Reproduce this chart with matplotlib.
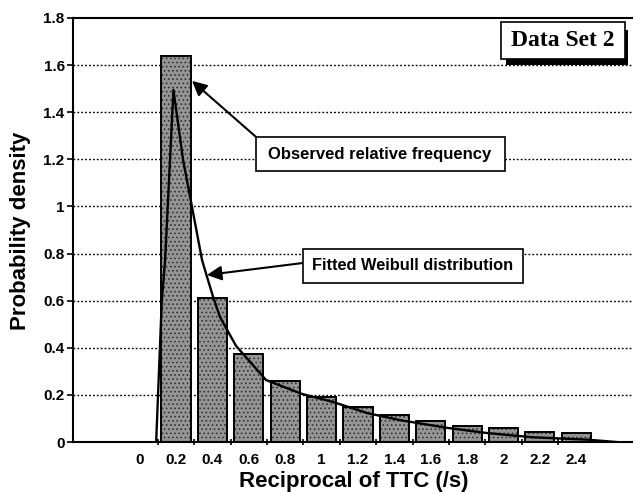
import matplotlib
matplotlib.use("Agg")
import matplotlib.pyplot as plt
from matplotlib.patches import Rectangle

# category labels on the x axis (bin values of reciprocal TTC)
bin_labels = ["0", "0.2", "0.4", "0.6", "0.8", "1", "1.2", "1.4", "1.6", "1.8", "2", "2.2", "2.4"]
observed = [0.0, 1.64, 0.61, 0.375, 0.26, 0.19, 0.15, 0.115, 0.089, 0.069, 0.058, 0.044, 0.04]

# fitted Weibull curve, x in 1/s
weibull_x = [0.091, 0.122, 0.14, 0.186, 0.239, 0.288, 0.343, 0.371, 0.404, 0.442, 0.53,
             0.695, 0.893, 1.063, 1.25, 1.43, 1.69, 1.91, 2.16, 2.46, 2.62]
weibull_y = [0.0, 0.60, 0.77, 1.495, 1.197, 0.998, 0.773, 0.70, 0.616, 0.53, 0.408,
             0.263, 0.204, 0.17, 0.123, 0.093, 0.06, 0.038, 0.02, 0.01, 0.0]

W, H = 633, 492

plt.rcParams["font.family"] = ["Liberation Sans", "DejaVu Sans"]
plt.rcParams["font.weight"] = "bold"
plt.rcParams["hatch.linewidth"] = 0.7

fig = plt.figure(figsize=(W / 100, H / 100), dpi=100)
ax = fig.add_axes([73 / W, 1 - 442 / H, 559 / W, 424 / H])


def fig_box(x0, y0, x1, y1, **kw):
    # rectangle given in pixel coords from top-left of the figure
    r = Rectangle((x0 / W, 1 - y1 / H), (x1 - x0) / W, (y1 - y0) / H,
                  transform=fig.transFigure, **kw)
    fig.patches.append(r)


pos = list(range(len(bin_labels)))
ax.bar(pos, observed, width=0.8, color="#959595", hatch="....", edgecolor="#333333",
       linewidth=0, zorder=2)
ax.bar(pos, observed, width=0.8, fill=False, edgecolor="black", linewidth=1.4, zorder=3)

curve_pos = [x / 0.2 for x in weibull_x]
ax.plot(curve_pos, weibull_y, color="black", linewidth=1.7, zorder=4)

ax.set_xlim(-1.83, 13.53)
ax.set_ylim(0, 1.8)
ax.set_yticks([0.2 * i for i in range(10)])
ax.set_yticklabels(["0", "0.2", "0.4", "0.6", "0.8", "1", "1.2", "1.4", "1.6", "1.8"])
ax.set_xticks(pos)
ax.set_xticklabels(bin_labels)
ax.set_xticks([i + 0.5 for i in range(12)], minor=True)
ax.tick_params(axis="x", which="major", length=0, pad=8, labelsize=11)
ax.tick_params(axis="x", which="minor", length=5, width=1.2, direction="inout")
ax.tick_params(axis="y", length=4, width=1.2, direction="out", labelsize=11, pad=2)
for g in [0.2 * i for i in range(1, 9)]:
    ax.axhline(g, color="black", linestyle=(0, (1.3, 1.5)), linewidth=1.0, zorder=1)

ax.spines["right"].set_visible(False)
for side in ["left", "top", "bottom"]:
    ax.spines[side].set_linewidth(1.5)

fig.text(354 / W, 1 - 482 / H, "Reciprocal of TTC (/s)", ha="center", va="center",
         fontsize=16, fontweight="bold")
fig.text(21 / W, 1 - 231 / H, "Probability density", ha="center", va="center",
         rotation=90, fontsize=16, fontweight="bold")

# callout boxes
fig_box(256, 137, 505, 171, facecolor="white", edgecolor="black", linewidth=1.2, zorder=6)
fig.text(380 / W, 1 - 154 / H, "Observed relative frequency", ha="center", va="center",
         fontsize=12, fontweight="bold", zorder=7)
fig_box(303, 249, 523, 283, facecolor="white", edgecolor="black", linewidth=1.2, zorder=6)
fig.text(413 / W, 1 - 266 / H, "Fitted Weibull distribution", ha="center", va="center",
         fontsize=11.8, fontweight="bold", zorder=7)

arrow = dict(arrowstyle="-|>", color="black", lw=1.5, mutation_scale=22,
             shrinkA=0, shrinkB=0)
ax.annotate("", xy=(1.44, 1.533), xytext=(3.2, 1.295), arrowprops=arrow, zorder=5)
ax.annotate("", xy=(1.85, 0.709), xytext=(4.49, 0.76), arrowprops=arrow, zorder=5)

# "Data Set 2" label with drop shadow
fig_box(506, 30, 628, 65, facecolor="black", edgecolor="none", zorder=8)
fig_box(501, 22, 625, 59, facecolor="white", edgecolor="black", linewidth=1.2, zorder=9)
fig.text(563 / W, 1 - 41 / H, "Data Set 2", ha="center", va="center", fontsize=17,
         fontweight="bold", family=["Liberation Serif", "DejaVu Serif"], zorder=10)

fig.savefig("out.png", dpi=100)
